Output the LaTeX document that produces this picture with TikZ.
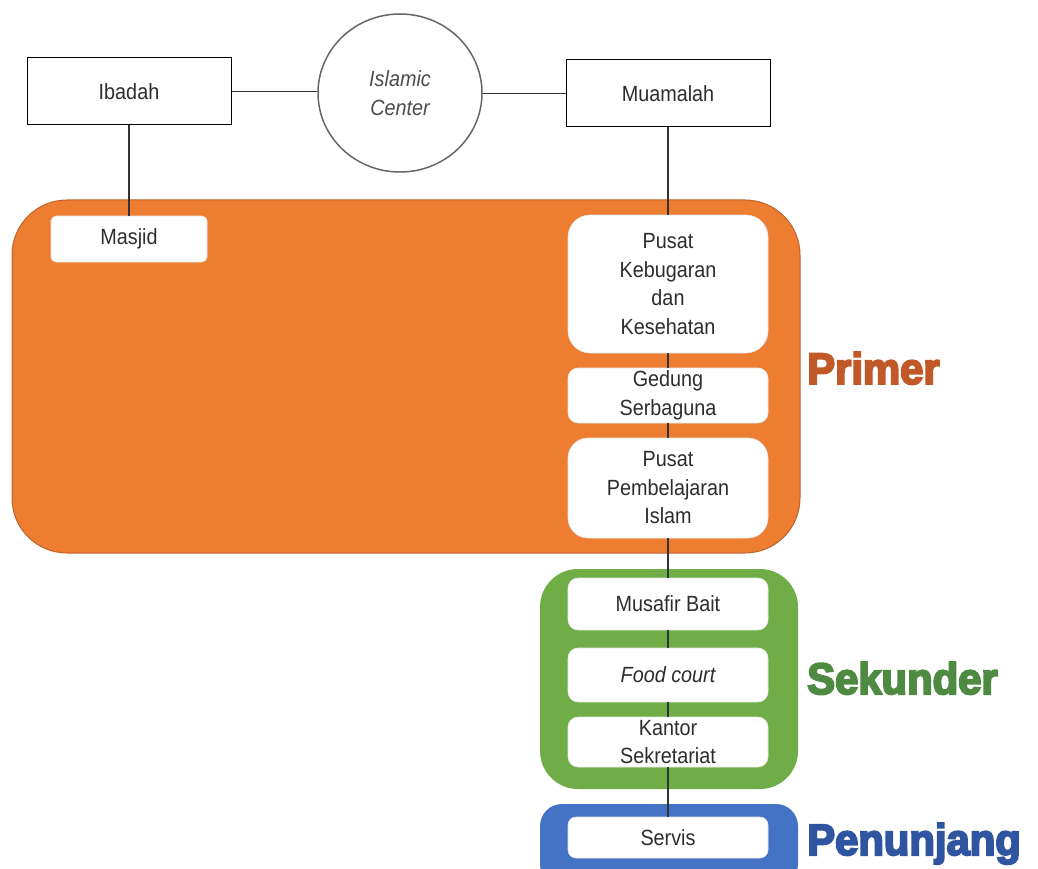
\documentclass[tikz,border=0pt]{standalone}
\usepackage{fontspec}
\setmainfont[FakeStretch=0.9]{Liberation Sans}
\newfontfamily\heavyfont[FakeBold=4.5,FakeStretch=0.95]{Liberation Sans Bold}
\usetikzlibrary{shapes.geometric}
\definecolor{orfill}{RGB}{237,125,49}
\definecolor{ordraw}{RGB}{190,100,45}
\definecolor{grfill}{RGB}{112,173,71}
\definecolor{blfill}{RGB}{68,114,196}
\definecolor{txt}{RGB}{45,45,45}
\definecolor{labor}{RGB}{192,88,40}
\definecolor{labgr}{RGB}{78,138,66}
\definecolor{labbl}{RGB}{47,85,160}
\tikzset{
  boxtext/.style={font=\fontsize{22}{28.5}\selectfont, text=txt, align=center, inner sep=0pt},
  topbox/.style={boxtext, draw=black, line width=1pt, fill=white, minimum width=204pt, minimum height=67pt},
  wbox/.style={boxtext, fill=white, draw=white!90!black, line width=0.6pt, minimum width=200pt},
  frame/.style={rectangle, inner sep=0pt},
  grouplabel/.style={font=\heavyfont\fontsize{44}{50}\selectfont, anchor=base west, inner sep=0pt},
  link/.style={draw=black!80, line width=1.2pt}
}
\begin{document}
\begin{tikzpicture}[x=1pt,y=-1pt]
\useasboundingbox (0,0) rectangle (1038,869);
\fill[white] (0,0) rectangle (1038,869);
% group frames
\node[frame, fill=orfill, draw=ordraw, line width=1pt, rounded corners=55pt, minimum width=788pt, minimum height=353pt] (primer) at (406,376.5) {};
\node[frame, fill=grfill, rounded corners=38pt, minimum width=258pt, minimum height=220pt] (sekunder) at (669,679) {};
\node[frame, fill=blfill, rounded corners=22pt, minimum width=258pt, minimum height=82pt] (penunjang) at (669,845) {};
% top row
\node[topbox] (ibadah) at (129,91.5) {Ibadah};
\node[ellipse, draw=black!60, line width=1.5pt, fill=white, minimum width=164pt, minimum height=158pt, boxtext, text=black!70] (center) at (400,93) {\itshape Islamic\\\itshape Center};
\node[topbox] (muamalah) at (668,93.5) {Muamalah};
% white boxes
\node[wbox, rounded corners=5pt, minimum width=156pt, minimum height=46pt] (masjid) at (129,239) {Masjid};
\node[wbox, rounded corners=22pt, minimum height=138pt] (kebugaran) at (668,284) {Pusat\\Kebugaran\\dan\\Kesehatan};
\node[wbox, rounded corners=10pt, minimum height=55pt] (gedung) at (668,395.5) {Gedung\\Serbaguna};
\node[wbox, rounded corners=20pt, minimum height=100pt] (pembelajaran) at (668,488) {Pusat\\Pembelajaran\\Islam};
\node[wbox, rounded corners=10pt, minimum height=52pt] (musafir) at (668,604) {Musafir Bait};
\node[wbox, rounded corners=10pt, minimum height=54pt] (food) at (668,675) {\itshape Food court};
\node[wbox, rounded corners=10pt, minimum height=50pt] (kantor) at (668,742) {Kantor\\Sekretariat};
\node[wbox, rounded corners=8pt, minimum height=41pt] (servis) at (668,837.5) {Servis};
% connectors
\draw[link] (ibadah.east) -- (ibadah.east -| center.west);
\draw[link] (center.east |- muamalah.west) -- (muamalah.west);
\draw[link] (ibadah.south) -- (masjid.north);
\draw[link] (muamalah.south) -- (kebugaran.north);
\draw[link] (kebugaran.south) -- (gedung.north);
\draw[link] (gedung.south) -- (pembelajaran.north);
\draw[link] (pembelajaran.south) -- (musafir.north);
\draw[link] (musafir.south) -- (food.north);
\draw[link] (food.south) -- (kantor.north);
\draw[link] (kantor.south) -- (servis.north);
% group labels
\node[grouplabel, text=labor] (lprimer) at (807,384) {Primer};
\node[grouplabel, text=labgr] (lsekunder) at (807,694) {Sekunder};
\node[grouplabel, text=labbl] (lpenunjang) at (807,855) {Penunjang};
\end{tikzpicture}
\end{document}
